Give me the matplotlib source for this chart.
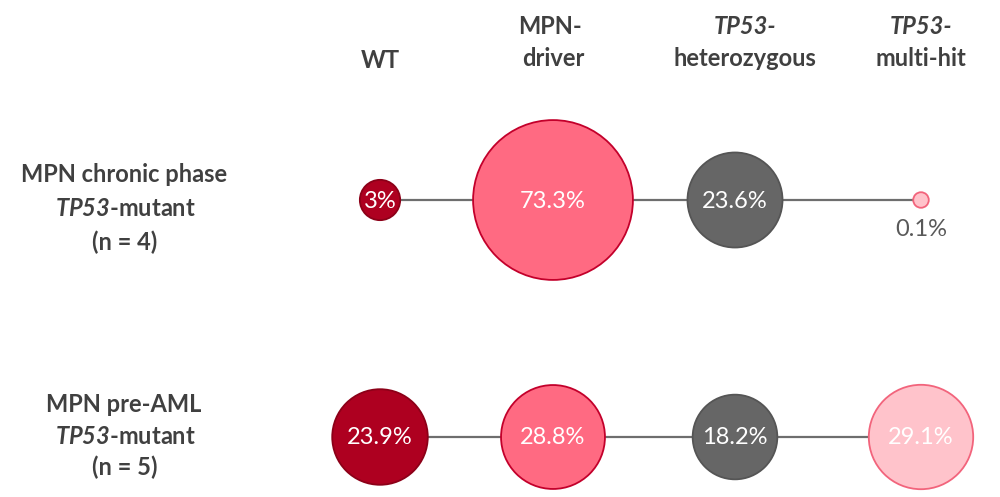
import numpy as np
import matplotlib.pyplot as plt
from matplotlib.patches import Circle

plt.rcParams['font.family'] = ['Lato', 'DejaVu Sans']
plt.rcParams['mathtext.fontset'] = 'custom'
plt.rcParams['mathtext.bfit'] = 'Lato:italic:bold'
plt.rcParams['mathtext.bf'] = 'Lato:bold'
plt.rcParams['mathtext.rm'] = 'Lato'

# data
columns = ['WT', 'MPN-\ndriver', 'TP53-\nheterozygous', 'TP53-\nmulti-hit']
groups = ['MPN chronic phase', 'MPN pre-AML']
group_n = [4, 5]
chronic = [3, 73.3, 23.6, 0.1]
pre_aml = [23.9, 28.8, 18.2, 29.1]
value_labels = [['3%', '73.3%', '23.6%', '0.1%'],
                ['23.9%', '28.8%', '18.2%', '29.1%']]

fills = ['#AE0020', '#FF6A82', '#666666', '#FFC3CB']
edges = ['#8C0018', '#C3002B', '#555555', '#F2647C']
txt = '#404040'

col_x = [380, 553, 735, 921]
row_y = [200, 437]
label_offsets = [[-25, 8, 42], [-32, 0, 30]]


def diam(v):
    # circle size scale (pixels), roughly area ~ value
    return 10 + 17.5 * np.sqrt(v)


fig = plt.figure(figsize=(10, 4.97), dpi=100)
ax = fig.add_axes([0, 0, 1, 1])
ax.set_xlim(0, 1000)
ax.set_ylim(497, 0)
ax.axis('off')

for r, vals in enumerate([chronic, pre_aml]):
    y = row_y[r]
    ax.plot([col_x[0], col_x[-1]], [y, y], color='#6e6e6e', lw=1.6, zorder=1)
    for c, v in enumerate(vals):
        d = diam(v)
        ax.add_patch(Circle((col_x[c], y), d / 2, facecolor=fills[c],
                            edgecolor=edges[c], lw=1.3, zorder=2))
        if d < 30:
            ax.text(col_x[c], y + 29, value_labels[r][c], ha='center', va='center',
                    fontsize=17, color='#595959', zorder=3)
        else:
            ax.text(col_x[c], y + 1, value_labels[r][c], ha='center', va='center',
                    fontsize=17, color='white', zorder=3)

# column headers
for c, name in enumerate(columns):
    lines = name.split('\n')
    if len(lines) == 1:
        ax.text(col_x[c], 61, lines[0], ha='center', va='center',
                fontsize=17, fontweight='bold', color=txt)
    else:
        ital = 'italic' if lines[0].startswith('TP53') else 'normal'
        xx = col_x[c] + (10 if c == 2 else 0)
        ax.text(xx - (3 if c == 1 else 0), 27, lines[0], ha='center', va='center',
                fontsize=17, fontweight='bold', fontstyle=ital, color=txt)
        ax.text(xx, 59, lines[1], ha='center', va='center',
                fontsize=17, fontweight='bold', color=txt)

# row labels
for r, g in enumerate(groups):
    y = row_y[r]
    o = label_offsets[r]
    ax.text(124, y + o[0], g, ha='center', va='center', fontsize=17,
            fontweight='bold', color=txt)
    ax.text(125, y + o[1], r'$\mathbfit{TP53}$' + '-mutant', ha='center', va='center',
            fontsize=17, fontweight='bold', color=txt)
    ax.text(125, y + o[2], '(n = %d)' % group_n[r], ha='center', va='center',
            fontsize=17, fontweight='bold', color=txt)

fig.savefig('out.png', dpi=100)
